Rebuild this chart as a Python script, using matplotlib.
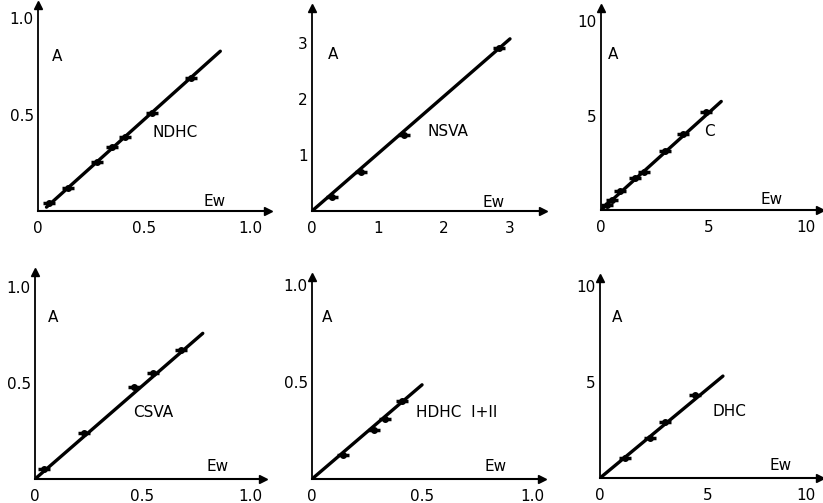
import matplotlib.pyplot as plt

# measured points (Ew, A) for each sample
names = ["NDHC", "NSVA", "C", "CSVA", "HDHC  I+II", "DHC"]

ndhc_x = [0.05, 0.14, 0.28, 0.35, 0.41, 0.54, 0.72]
ndhc_y = [0.04, 0.12, 0.255, 0.33, 0.385, 0.51, 0.69]

nsva_x = [0.30, 0.74, 1.39, 2.83]
nsva_y = [0.25, 0.70, 1.36, 2.90]

c_x = [0.3, 0.5, 0.9, 1.6, 2.0, 3.0, 3.8, 4.9]
c_y = [0.27, 0.53, 1.0, 1.7, 2.0, 3.1, 4.0, 5.2]

csva_x = [0.04, 0.23, 0.46, 0.55, 0.68]
csva_y = [0.05, 0.24, 0.48, 0.555, 0.675]

hdhc_x = [0.14, 0.28, 0.33, 0.41]
hdhc_y = [0.125, 0.25, 0.31, 0.40]

dhc_x = [1.16, 2.3, 3.0, 4.4]
dhc_y = [1.04, 2.1, 2.9, 4.3]

# fitted lines (start, end)
fit_x = [[0.04, 0.86], [0, 3.0], [0, 5.6], [0, 0.78], [0, 0.50], [0, 5.7]]
fit_y = [[0.02, 0.83], [0, 3.07], [0, 5.75], [0, 0.76], [0, 0.485], [0, 5.3]]

xticks = [[0, 0.5, 1.0], [0, 1, 2, 3], [0, 5, 10], [0, 0.5, 1.0], [0, 0.5, 1.0], [0, 5, 10]]
xtick_labels = [["0", "0.5", "1.0"], ["0", "1", "2", "3"], ["0", "5", "10"],
                ["0", "0.5", "1.0"], ["0", "0.5", "1.0"], ["0", "5", "10"]]
yticks = [[0.5, 1.0], [1, 2, 3], [5, 10], [0.5, 1.0], [0.5, 1.0], [5, 10]]
ytick_labels = [["0.5", "1.0"], ["1", "2", "3"], ["5", "10"],
                ["0.5", "1.0"], ["0.5", "1.0"], ["5", "10"]]

pts_x = [ndhc_x, nsva_x, c_x, csva_x, hdhc_x, dhc_x]
pts_y = [ndhc_y, nsva_y, c_y, csva_y, hdhc_y, dhc_y]

W, H = 823, 503
# pixel boxes: origin x, origin y, width, height
boxes = [(38, 211, 230, 206), (312, 211, 231, 203), (601, 210, 219, 202),
         (35, 479, 228, 207), (312, 479, 230, 202), (600, 478, 220, 200)]
lims = [(1.085, 1.07), (3.5, 3.62), (10.2, 10.7), (1.06, 1.08), (1.045, 1.04), (10.2, 10.4)]
a_pos = [(0.06, 0.75), (0.07, 0.77), (0.03, 0.77), (0.057, 0.78), (0.043, 0.80), (0.054, 0.805)]
ew_pos = [(0.72, 0.045), (0.74, 0.044), (0.73, 0.05), (0.75, 0.058), (0.75, 0.06), (0.77, 0.06)]
name_pos = [(0.50, 0.38), (0.50, 0.39), (0.47, 0.39), (0.43, 0.32), (0.45, 0.33), (0.51, 0.33)]

plt.rcParams.update({'font.size': 11, 'font.family': 'DejaVu Sans'})
fig = plt.figure(figsize=(W / 100, H / 100), dpi=100)

for i in range(6):
    ox, oy, w, h = boxes[i]
    ax = fig.add_axes([ox / W, 1 - oy / H, w / W, h / H])
    ax.set_xlim(0, lims[i][0])
    ax.set_ylim(0, lims[i][1])
    for s in ["top", "right"]:
        ax.spines[s].set_visible(False)
    ax.spines["left"].set_linewidth(1.3)
    ax.spines["bottom"].set_linewidth(1.5)
    ax.plot(1, 0, ">k", ms=6, transform=ax.get_yaxis_transform(), clip_on=False)
    ax.plot(0, 1, "^k", ms=6, transform=ax.get_xaxis_transform(), clip_on=False)

    ax.plot(fit_x[i], fit_y[i], color="black", lw=2.4, solid_capstyle="round")
    ax.plot(pts_x[i], pts_y[i], "_", color="black", ms=9, mew=2.5)
    ax.plot(pts_x[i], pts_y[i], "o", color="black", ms=4)

    ax.set_xticks(xticks[i])
    ax.set_xticklabels(xtick_labels[i])
    ax.set_yticks(yticks[i])
    ax.set_yticklabels(ytick_labels[i])
    ax.tick_params(axis="x", length=0, pad=7, labelsize=11)
    ax.tick_params(axis="y", length=0, pad=3, labelsize=11)
    if xtick_labels[i][-1] == "10":
        ax.get_xticklabels()[-1].set_horizontalalignment("right")

    ax.text(a_pos[i][0], a_pos[i][1], "A", transform=ax.transAxes, va="center")
    ax.text(ew_pos[i][0], ew_pos[i][1], "Ew", transform=ax.transAxes, va="center")
    ax.text(name_pos[i][0], name_pos[i][1], names[i], transform=ax.transAxes, va="center")

plt.savefig("out.png", dpi=100)
